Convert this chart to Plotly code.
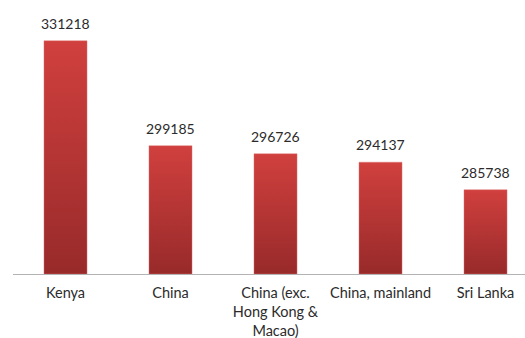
import plotly.graph_objects as go

# Data
categories = ["Kenya", "China", "China (exc.<br>Hong Kong &<br>Macao)", "China, mainland", "Sri Lanka"]
values = [331218, 299185, 296726, 294137, 285738]

axis_min = 260000
axis_max = 340000
bar_half = 0.205

top_color = "#d0403e"
bottom_color = "#982a2a"
font_family = "Lato, 'Open Sans', sans-serif"
text_color = "#2b2b2b"

fig = go.Figure()

# Each bar is a filled polygon so it can carry a vertical gradient
for i, v in enumerate(values):
    fig.add_trace(go.Scatter(
        x=[i - bar_half, i + bar_half, i + bar_half, i - bar_half, i - bar_half],
        y=[axis_min, axis_min, v, v, axis_min],
        mode="lines",
        line=dict(width=0.6, color="rgba(225,120,118,0.7)"),
        fill="toself",
        fillgradient=dict(type="vertical",
                          colorscale=[[0, bottom_color], [1, top_color]]),
        hoverinfo="skip",
        showlegend=False,
    ))

# Value labels above the bars
for i, v in enumerate(values):
    fig.add_annotation(
        x=i, y=v, text=str(v),
        showarrow=False, yanchor="bottom", yshift=7,
        font=dict(family=font_family, size=14, color=text_color),
    )

fig.update_layout(
    width=525,
    height=338,
    margin=dict(l=13, r=0, t=12, b=64),
    paper_bgcolor="white",
    plot_bgcolor="white",
    showlegend=False,
    xaxis=dict(
        range=[-0.5, 4.376],
        tickmode="array",
        tickvals=list(range(len(categories))),
        ticktext=categories,
        tickfont=dict(family=font_family, size=14.5, color=text_color),
        ticklabelstandoff=6,
        showgrid=False,
        zeroline=False,
        showline=True,
        linecolor="#b3b3b3",
        linewidth=1,
        ticks="",
        fixedrange=True,
    ),
    yaxis=dict(
        range=[axis_min, axis_max],
        visible=False,
        showgrid=False,
        fixedrange=True,
    ),
)

fig.write_html("out.html")
